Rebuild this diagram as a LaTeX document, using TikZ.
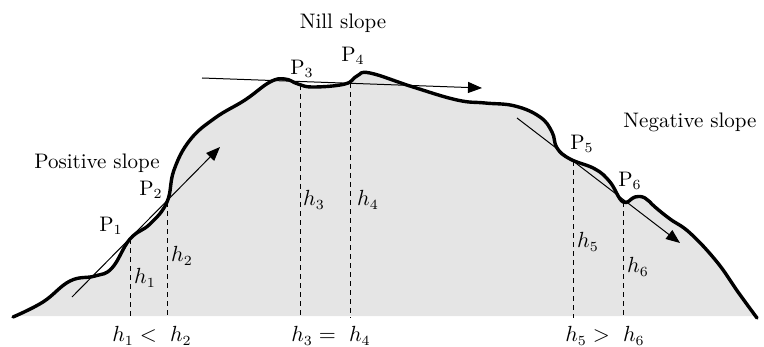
\documentclass[tikz,border=0pt]{standalone}
\usetikzlibrary{arrows.meta}
\begin{document}
\begin{tikzpicture}[x=0.5pt, y=-0.5pt,
  hill/.style={line width=1.7pt, line join=round, line cap=round},
  arr/.style={-{Triangle[length=7pt, width=5.5pt]}, line width=0.5pt},
  hline/.style={dash pattern=on 2.5pt off 2pt, line width=0.5pt},
  lbl/.style={font=\fontsize{10.5}{12}\selectfont, inner sep=1pt}
]
  \useasboundingbox (0,0) rectangle (764,347);
  % hill
  \fill[gray!20] plot[smooth, tension=0.7] coordinates {(13,317) (43,302) (70,281) (95,276) (112,268) (130,239) (150,224) (167,202) (174,170) (190,140) (215,118) (245,100) (270,82) (285,79) (298,84) (313,87) (345,84) (357,76) (370,73) (413,87) (457,100) (485,103) (515,106) (540,117) (552,132) (557,148) (570,159) (595,169) (610,182) (623,202) (635,197) (645,198) (655,207) (670,219) (690,233) (717,262) (738,292) (757,318)} -- (757,316) -- (13,316) -- cycle;
  \draw[hill] plot[smooth, tension=0.7] coordinates {(13,317) (43,302) (70,281) (95,276) (112,268) (130,239) (150,224) (167,202) (174,170) (190,140) (215,118) (245,100) (270,82) (285,79) (298,84) (313,87) (345,84) (357,76) (370,73) (413,87) (457,100) (485,103) (515,106) (540,117) (552,132) (557,148) (570,159) (595,169) (610,182) (623,202) (635,197) (645,198) (655,207) (670,219) (690,233) (717,262) (738,292) (757,318)};

  % points and heights
  \coordinate (base) at (0,318);
  \coordinate (p1) at (130,239);
  \coordinate (p2) at (167,202);
  \coordinate (p3) at (300,85);
  \coordinate (p4) at (350,83);
  \coordinate (p5) at (573,161);
  \coordinate (p6) at (623,202);
  \foreach \p in {p1,p2,p3,p4,p5,p6}
    \draw[hline] (\p) -- (\p |- base);

  % slopes
  \coordinate (posA) at (72,297);
  \coordinate (posB) at (220,147);
  \coordinate (nilA) at (202,78);
  \coordinate (nilB) at (482,88);
  \coordinate (negA) at (517,118);
  \coordinate (negB) at (680,243);
  \draw[arr] (posA) -- (posB);
  \draw[arr] (nilA) -- (nilB);
  \draw[arr] (negA) -- (negB);

  \node[lbl] (tpos) at (97,163) {Positive slope};
  \node[lbl] (tnil) at (343,23) {Nill slope};
  \node[lbl] (tneg) at (690,122) {Negative slope};

  \node[lbl] (lp1) at (111,226) {P$_1$};
  \node[lbl] (lp2) at (151,190) {P$_2$};
  \node[lbl] (lp3) at (302,69) {P$_3$};
  \node[lbl] (lp4) at (353,56) {P$_4$};
  \node[lbl] (lp5) at (582,144) {P$_5$};
  \node[lbl] (lp6) at (630,181) {P$_6$};

  \node[lbl] (lh1) at (145,278) {$h_1$};
  \node[lbl] (lh2) at (182,256) {$h_2$};
  \node[lbl] (lh3) at (314,200) {$h_3$};
  \node[lbl] (lh4) at (368,200) {$h_4$};
  \node[lbl] (lh5) at (588,242) {$h_5$};
  \node[lbl] (lh6) at (638,267) {$h_6$};

  \node[lbl] (c12) at (152,336) {$h_1 <\ h_2$};
  \node[lbl] (c34) at (331,336) {$h_3 =\ h_4$};
  \node[lbl] (c56) at (605,336) {$h_5 >\ h_6$};
\end{tikzpicture}
\end{document}
